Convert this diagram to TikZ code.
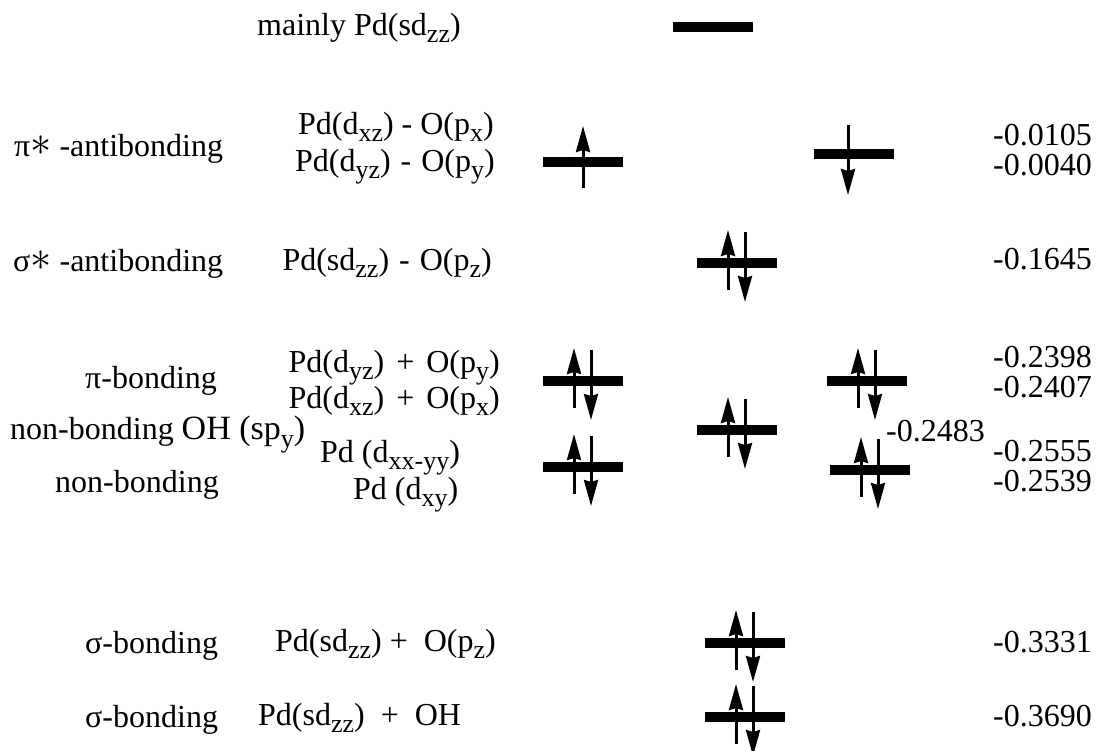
\documentclass[tikz,border=0pt]{standalone}
\usepackage{fontspec}
\setmainfont{Liberation Serif}
\usetikzlibrary{positioning, arrows.meta, calc}
\newcommand{\orbsub}[1]{\raisebox{-7pt}{\fontsize{26}{26}\selectfont #1}}
\newcommand{\antistar}{\raisebox{1pt}{\scalebox{1.7}{$\ast$}}}
\tikzset{
    level/.style={rectangle, fill=black, inner sep=0pt, minimum width=80pt, minimum height=10pt},
    spin/.style={-{Stealth[length=26pt, width=14pt, inset=2pt]}, line width=3pt, color=black},
    lbl/.style={anchor=base west, inner sep=0pt, font=\fontsize{32}{38}\selectfont},
    lblr/.style={anchor=base east, inner sep=0pt, font=\fontsize{32}{38}\selectfont},
    val/.style={anchor=base east, inner sep=0pt, font=\fontsize{32}{38}\selectfont}
}

\begin{document}
\begin{tikzpicture}[x=1pt, y=-1pt]
    \useasboundingbox (0,0) rectangle (1096,751);

    % energy levels
    \node[level] (lvtop) at (713,27) {};
    \node[level] (lvpiaL) at (583,162) {};
    \node[level] (lvpiaR) at (854,154) {};
    \node[level] (lvsiga) at (737,263) {};
    \node[level] (lvpibL) at (583,381) {};
    \node[level] (lvpibR) at (867,381) {};
    \node[level] (lvoh) at (737,430) {};
    \node[level] (lvnbL) at (583,467) {};
    \node[level] (lvnbR) at (870,470) {};
    \node[level] (lvsigb) at (745,643) {};
    \node[level] (lvsigoh) at (745,717) {};

    % single electrons
    \draw[spin] ([shift={(0,26)}]lvpiaL.center) -- ([shift={(0,-36)}]lvpiaL.center);
    \draw[spin] ([shift={(-6,-29)}]lvpiaR.center) -- ([shift={(-6,41)}]lvpiaR.center);

    % electron pairs
    \foreach \lv in {lvsiga, lvpibL, lvpibR, lvoh, lvnbL, lvnbR, lvsigb, lvsigoh}{
        \draw[spin] ([shift={(-9,27)}]\lv.center) -- ([shift={(-9,-33)}]\lv.center);
        \draw[spin] ([shift={(8,-31)}]\lv.center) -- ([shift={(8,39)}]\lv.center);
    }

    % orbital labels
    \node[lbl] (ttop) at (257,36) {mainly Pd(sd\orbsub{zz})};
    \node[lbl] (tpia) at (14,157) {π\antistar\ -antibonding};
    \node[lblr] (tpia1) at (494,135) {Pd(d\orbsub{xz}) -\ O(p\orbsub{x})};
    \node[lblr] (tpia2) at (495,172) {Pd(d\orbsub{yz})\hspace{10pt}-\hspace{10pt}O(p\orbsub{y})};
    \node[lbl] (tsiga) at (13,272) {σ\antistar\ -antibonding};
    \node[lblr] (tsiga1) at (492,271) {Pd(sd\orbsub{zz})\hspace{10pt}-\hspace{10pt}O(p\orbsub{z})};
    \node[lbl] (tpib) at (85,389) {π-bonding};
    \node[lblr] (tpib1) at (500,373) {Pd(d\orbsub{yz})\hspace{12pt}+\hspace{12pt}O(p\orbsub{y})};
    \node[lblr] (tpib2) at (500,409) {Pd(d\orbsub{xz})\hspace{12pt}+\hspace{12pt}O(p\orbsub{x})};
    \node[lbl] (toh) at (10,440) {non-bonding {\fontsize{34}{40}\selectfont OH (sp\orbsub{y})}};
    \node[lbl] (tnb1) at (320,463) {Pd (d\orbsub{xx-yy})};
    \node[lbl] (tnb) at (55,492) {non-bonding};
    \node[lbl] (tnb2) at (353,500) {Pd (d\orbsub{xy})};
    \node[lbl] (tsigb) at (85,653) {σ-bonding};
    \node[lbl] (tsigb1) at (275,651) {Pd(sd\orbsub{zz}) +\ \ O(p\orbsub{z})};
    \node[lbl] (tsigoh) at (85,727) {σ-bonding};
    \node[lbl] (tsigoh1) at (258,725) {Pd(sd\orbsub{zz})\ \ +\ \ OH};

    % orbital energies
    \node[val] (e1) at (1092,146) {-0.0105};
    \node[val] (e2) at (1092,176) {-0.0040};
    \node[val] (e3) at (1092,270) {-0.1645};
    \node[val] (e4) at (1092,368) {-0.2398};
    \node[val] (e5) at (1092,398) {-0.2407};
    \node[lbl] (e6) at (886,442) {-0.2483};
    \node[val] (e7) at (1092,461) {-0.2555};
    \node[val] (e8) at (1092,491) {-0.2539};
    \node[val] (e9) at (1092,652) {-0.3331};
    \node[val] (e10) at (1092,726) {-0.3690};
\end{tikzpicture}
\end{document}
